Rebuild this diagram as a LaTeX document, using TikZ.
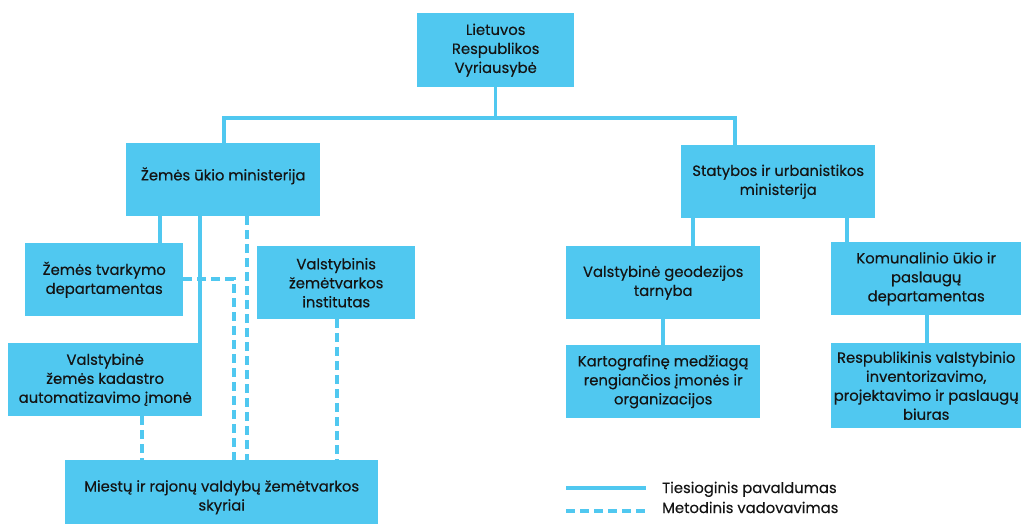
\documentclass[tikz,border=0pt]{standalone}
\usepackage{fontspec}
\setmainfont{Poppins}[FakeBold=0.35]
\newfontfamily\medfont{Poppins}[FakeBold=0.35]
\definecolor{cb}{RGB}{80,200,240}
\definecolor{tx}{RGB}{20,20,20}
\begin{document}
\begin{tikzpicture}[x=1pt,y=-1pt,
  box/.style={fill=cb, inner sep=0pt, anchor=north west, align=center,
    font=\medfont\fontsize{14.8}{19}\selectfont, text=tx},
  sl/.style={draw=cb, line width=3.2pt},
  dl/.style={draw=cb, line width=3.2pt, dash pattern=on 9pt off 5pt},
  leg/.style={anchor=base west, inner sep=0pt, font=\medfont\fontsize{14.8}{19}\selectfont, text=tx}]
\useasboundingbox (0,0) rectangle (1021,525);
% boxes
\node[box, minimum width=157pt, minimum height=74pt] (gov) at (417,13) {Lietuvos\\Respublikos\\Vyriausybė};
\node[box, minimum width=194pt, minimum height=73pt] (min) at (126,143) {\raisebox{4pt}[\height][\depth]{Žemės ūkio ministerija}};
\node[box, minimum width=194pt, minimum height=73pt] (stat) at (681,145) {Statybos ir urbanistikos\\ministerija};
\node[box, minimum width=158pt, minimum height=73pt] (zt) at (25,243) {Žemės tvarkymo\\departamentas};
\node[box, minimum width=158pt, minimum height=73pt] (vzi) at (257,246) {Valstybinis\\žemėtvarkos\\institutas};
\node[box, minimum width=194pt, minimum height=73pt] (kad) at (8,343) {Valstybinė\\žemės kadastro\\automatizavimo įmonė};
\node[box, minimum width=313pt, minimum height=64pt] (mr) at (65,460) {\raisebox{-5pt}[\height][\depth]{\begin{tabular}{@{}c@{}}Miestų ir rajonų valdybų žemėtvarkos\\skyriai\end{tabular}}};
\node[box, minimum width=194pt, minimum height=73pt] (geo) at (566,246) {Valstybinė geodezijos\\tarnyba};
\node[box, minimum width=194pt, minimum height=73pt] (kart) at (566,345) {Kartografinę medžiagą\\rengiančios įmonės ir\\organizacijos};
\node[box, minimum width=190pt, minimum height=73pt] (kom) at (831,242) {Komunalinio ūkio ir\\paslaugų\\departamentas};
\node[box, minimum width=190pt, minimum height=85pt] (resp) at (831,343) {Respublikinis valstybinio\\inventorizavimo,\\projektavimo ir paslaugų\\biuras};
% helper coordinates
\coordinate (bus) at (495,118);
\coordinate (c224) at (224,0);
\coordinate (c735) at (735,0);
\coordinate (c160) at (160,0);
\coordinate (c200) at (200,0);
\coordinate (c247) at (247,0);
\coordinate (c234) at (234,0);
\coordinate (c337) at (337,0);
\coordinate (c142) at (142,0);
\coordinate (c693) at (693,0);
\coordinate (c663) at (663,0);
\coordinate (c847) at (847,0);
\coordinate (c927) at (927,0);
\coordinate (r279) at (0,279);
% connectors
\draw[sl] (gov.south) -- (gov.south |- bus);
\draw[sl] (min.north -| c224) |- (gov.south |- bus) -| (stat.north -| c735);
\draw[sl] (min.south -| c160) -- (zt.north -| c160);
\draw[sl] (min.south -| c200) -- (kad.north -| c200);
\draw[dl] (min.south -| c247) -- (mr.north -| c247);
\draw[dl] (zt.east |- r279) -| (mr.north -| c234);
\draw[dl] (vzi.south -| c337) -- (mr.north -| c337);
\draw[dl] (kad.south -| c142) -- (mr.north -| c142);
\draw[sl] (stat.south -| c693) -- (geo.north -| c693);
\draw[sl] (geo.south -| c663) -- (kart.north -| c663);
\draw[sl] (stat.south -| c847) -- (kom.north -| c847);
\draw[sl] (kom.south -| c927) -- (resp.north -| c927);
% legend
\coordinate (l1a) at (566,488);
\coordinate (l1b) at (646,488);
\coordinate (l2a) at (566,511);
\coordinate (l2b) at (646,511);
\draw[sl] (l1a) -- (l1b);
\draw[dl] (l2a) -- (l2b);
\node[leg] (t1) at (662,493) {Tiesioginis pavaldumas};
\node[leg] (t2) at (662,513) {Metodinis vadovavimas};
\end{tikzpicture}
\end{document}
